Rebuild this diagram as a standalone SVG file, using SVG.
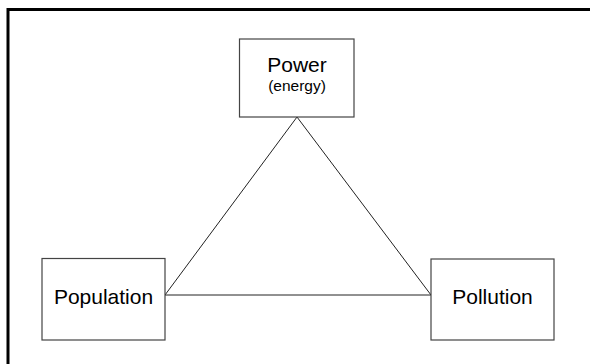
<svg xmlns="http://www.w3.org/2000/svg" width="590" height="364" viewBox="0 0 590 364">
<style>
.box{fill:#fff;stroke:#444;stroke-width:1.2}
.t{font-family:"Liberation Sans",Arial,sans-serif;fill:#000;text-anchor:middle}
.c{stroke:#222;stroke-width:1;fill:none}
</style>
<rect x="0" y="0" width="590" height="364" fill="#fff"/>
<rect x="8" y="9.5" width="600" height="380" fill="none" stroke="#000" stroke-width="3"/>
<g id="connectors">
<line class="c" x1="297" y1="117" x2="165" y2="295"/>
<line class="c" x1="297" y1="117" x2="431" y2="295"/>
<line class="c" x1="165" y1="295" x2="431" y2="295"/>
</g>
<g id="power">
<rect class="box" x="239.5" y="39" width="114.5" height="78"/>
<text class="t" x="297" y="72" font-size="21">Power</text>
<text class="t" x="297" y="91" font-size="15.5">(energy)</text>
</g>
<g id="population">
<rect class="box" x="42" y="258.5" width="123" height="81.5"/>
<text class="t" x="103.5" y="303.5" font-size="21">Population</text>
</g>
<g id="pollution">
<rect class="box" x="431" y="259" width="123" height="81"/>
<text class="t" x="492.5" y="304" font-size="21">Pollution</text>
</g>
</svg>
